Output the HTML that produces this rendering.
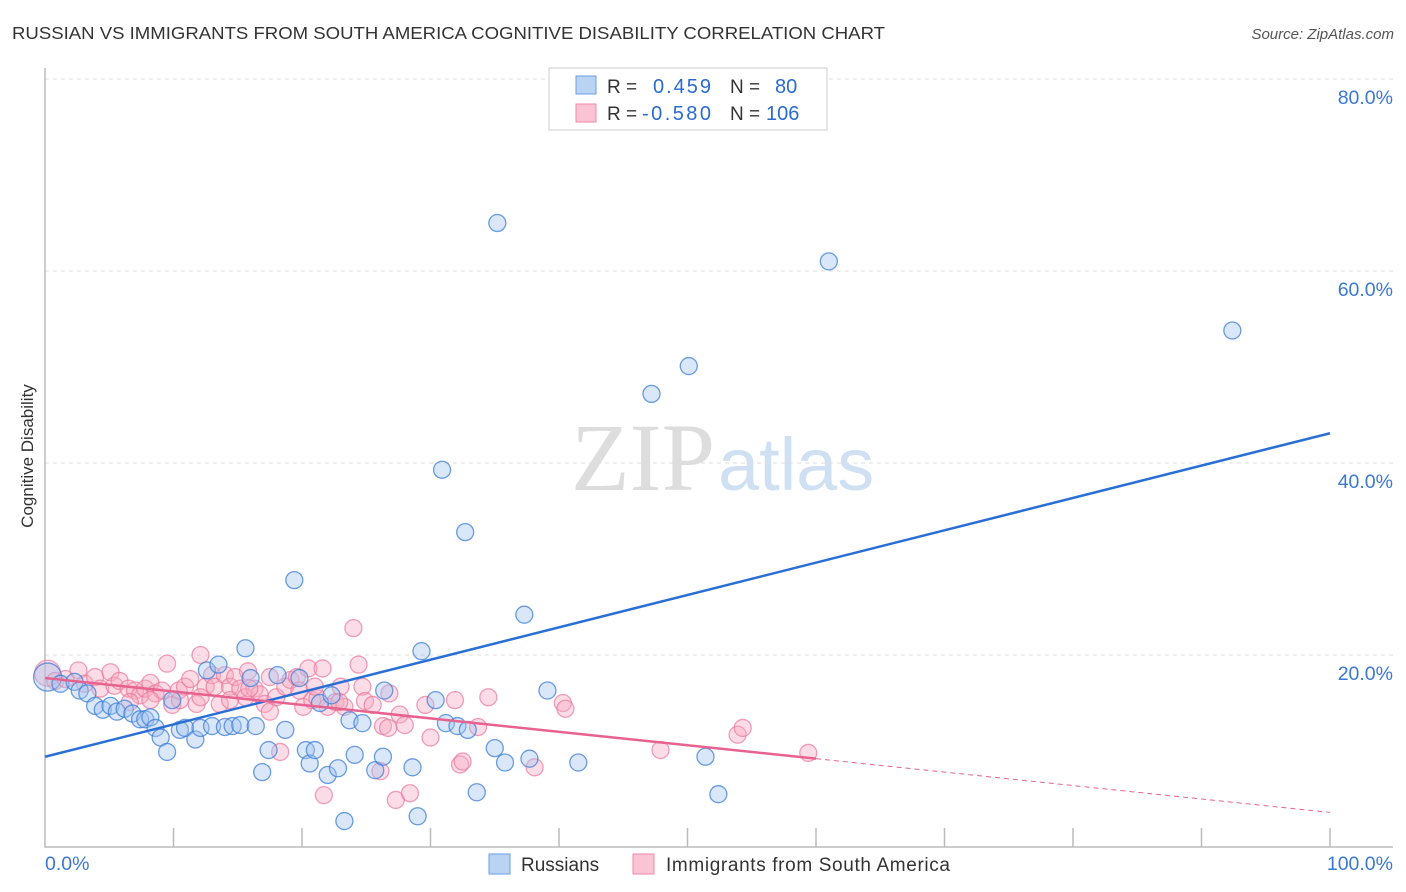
<!DOCTYPE html>
<html><head><meta charset="utf-8"><style>
body{margin:0;background:#fff;font-family:"Liberation Sans",sans-serif}
</style></head><body>
<svg id="c" width="1406" height="892" xmlns="http://www.w3.org/2000/svg" style="display:block">
<text x="12" y="39" font-size="17.5" fill="#333" textLength="873" lengthAdjust="spacingAndGlyphs">RUSSIAN VS IMMIGRANTS FROM SOUTH AMERICA COGNITIVE DISABILITY CORRELATION CHART</text>
<text x="1394" y="39" font-size="15" fill="#555" text-anchor="end" font-style="italic">Source: ZipAtlas.com</text>
<text x="715" y="490" font-size="96" fill="#ddd" text-anchor="end" font-family="Liberation Serif">ZIP</text>
<text x="718" y="490" font-size="74" fill="#cfe0f3">atlas</text>
<text transform="translate(33,456) rotate(-90)" font-size="17" fill="#333" text-anchor="middle">Cognitive Disability</text>
<g id="grid"></g><g id="pts"></g><g id="lines"></g>
<g>
<rect x="549" y="68" width="278" height="62" fill="#fff" stroke="#ccc"/>
<rect x="576" y="76" width="20" height="18" fill="#b9d3f3" stroke="#6a9fe0"/>
<rect x="576" y="104" width="20" height="18" fill="#fac4d4" stroke="#ee8aa8"/>
<text x="607" y="93" font-size="19" fill="#333">R =</text><text x="653" y="93" font-size="20" fill="#2a6bd1" textLength="58">0.459</text>
<text x="730" y="93" font-size="19" fill="#333">N =</text><text x="775" y="93" font-size="20" fill="#2a6bd1">80</text>
<text x="607" y="120" font-size="19" fill="#333">R =</text><text x="642" y="120" font-size="20" fill="#2a6bd1" textLength="69">-0.580</text>
<text x="730" y="120" font-size="19" fill="#333">N =</text><text x="766" y="120" font-size="20" fill="#2a6bd1">106</text>
</g>
<g>
<rect x="489" y="854" width="21" height="20" fill="#b9d3f3" stroke="#6a9fe0"/>
<text x="521" y="871" font-size="19" fill="#333">Russians</text>
<rect x="633" y="854" width="21" height="20" fill="#fac4d4" stroke="#ee8aa8"/>
<text x="666" y="871" font-size="19" fill="#333" textLength="284">Immigrants from South America</text>
</g>
</svg>
<script>
const yTicks=[20,40,60,80];
const xTickLabels=["0.0%","100.0%"];
const blueX=[0.2,1.2,2.3,2.7,3.3,3.9,4.5,5.1,5.6,6.2,6.8,7.4,7.8,8.2,8.6,9.0,9.5,9.9,10.5,10.9,11.7,12.1,12.6,13.0,13.5,14.0,14.6,15.2,15.6,16.0,16.4,16.9,17.4,18.1,18.7,19.4,19.8,20.3,20.6,21.0,21.4,22.0,22.3,22.8,23.3,23.7,24.1,24.7,25.7,26.3,26.4,28.6,29.0,29.3,30.4,30.9,31.2,32.1,32.7,32.9,33.6,35.0,35.8,37.3,37.7,39.1,41.5,47.2,50.1,51.4,52.4,61.0,92.4,35.2];
const blueY=[17.7,17.0,17.2,16.3,16.0,14.7,14.3,14.7,14.1,14.4,13.9,13.3,13.3,13.5,12.4,11.4,9.9,15.3,12.2,12.4,11.2,12.4,18.4,12.6,19.0,12.5,12.6,12.7,20.7,17.6,12.6,7.8,10.1,17.9,12.2,27.8,17.6,10.1,8.7,10.1,15.0,7.5,15.8,8.2,2.7,13.2,9.6,12.9,8.0,9.4,16.3,8.3,3.2,20.4,15.3,39.3,12.9,12.6,32.8,12.2,5.7,10.3,8.8,24.2,9.2,16.3,8.8,47.2,50.1,9.4,5.5,61.0,53.8,65.0];
const pinkX=[0.2,0.8,1.6,2.6,3.1,3.9,4.3,5.1,5.4,5.8,6.5,7.0,7.4,7.8,8.2,8.6,9.1,9.5,9.9,10.4,10.9,11.3,11.8,12.1,12.5,13.0,13.2,13.6,14.0,14.4,14.8,15.2,15.6,15.8,16.3,16.7,17.1,17.5,18.0,18.3,18.7,19.1,19.6,20.1,20.5,20.8,21.2,21.6,22.0,22.6,23.0,23.3,24.0,24.4,24.7,24.9,25.5,26.1,26.3,26.7,26.8,27.3,27.6,28.0,28.4,29.6,30.0,31.9,32.3,32.5,33.7,34.5,38.1,40.3,40.5,47.9,53.9,54.3,59.4,21.7,17.5,10.5,14.4,8.2,22.9,15.9,19.8,21.0,12.1,6.6];
const pinkY=[18.1,17.3,17.5,18.4,17.0,17.7,16.5,18.2,16.8,17.3,16.5,16.3,15.8,16.5,17.1,16.0,16.3,19.1,14.8,16.3,16.7,17.5,14.9,20.0,16.7,17.9,16.7,14.9,17.9,16.7,17.7,16.5,15.6,18.3,16.5,15.9,14.9,14.1,15.6,9.9,16.7,17.4,17.7,14.6,18.6,15.3,15.5,18.6,14.6,15.1,16.7,14.6,22.8,19.0,16.7,15.2,14.8,7.9,12.6,12.4,16.0,4.9,13.8,12.7,5.6,14.8,11.4,15.3,8.6,8.9,12.5,15.6,8.3,15.0,14.4,10.1,11.7,12.4,9.8,5.4,17.7,15.3,15.3,15.3,15.1,16.5,16.3,16.7,15.6,15.1];
const blueFit=[9.4,43.1];      // y at x=0, x=100
const pinkFit=[17.6,3.6];      // y at x=0, x=100
const pinkSolidEnd=60;
const X=v=>45+v*12.85, Y=v=>847-v*9.6;
const ns="http://www.w3.org/2000/svg";
function mk(t,a,p){const e=document.createElementNS(ns,t);for(const k in a)e.setAttribute(k,a[k]);p.appendChild(e);return e;}
const g=document.getElementById('grid');
yTicks.forEach(t=>{
 const l=mk('line',{x1:45,x2:1393,y1:Y(t),y2:Y(t),stroke:'#ddd','stroke-dasharray':'4,4'},g);
 
 
 const tx=mk('text',{x:1393,y:Y(t)+25,'font-size':19.5,fill:'#3b78d0','text-anchor':'end'},g);
 tx.textContent=t.toFixed(1)+'%';
 
 
});
const ax=mk('path',{d:`M45,68V847H1393`,stroke:'#bbb',fill:'none','stroke-width':1.5},g);


for(let i=1;i<=10;i++){const t=mk('line',{x1:X(i*10),x2:X(i*10),y1:828,y2:847,stroke:'#bbb','stroke-width':1.5},g);
 
 }
xTickLabels.forEach((s,i)=>{const t=mk('text',{x:i?1393:45,y:870,'font-size':19.5,fill:'#3b78d0','text-anchor':i?'end':'start'},g);t.textContent=s;
 
 });
const p=document.getElementById('pts');
pinkX.forEach((x,i)=>{const c=mk('circle',{cx:X(x),cy:Y(pinkY[i]),r:i==0?13:8.5,fill:'rgba(248,170,195,0.4)',stroke:'rgba(235,120,155,0.7)','stroke-width':1.3},p);
 
 });
blueX.forEach((x,i)=>{const c=mk('circle',{cx:X(x),cy:Y(blueY[i]),r:i==0?14:8.5,fill:'rgba(160,195,240,0.4)',stroke:'rgba(60,125,215,0.75)','stroke-width':1.3},p);
 
 });
const L=document.getElementById('lines');
const b=mk('line',{x1:X(0),y1:Y(blueFit[0]),x2:X(100),y2:Y(blueFit[1]),stroke:'#2a6fd6','stroke-width':2.5},L);


const pm=v=>pinkFit[0]+(pinkFit[1]-pinkFit[0])*v/100;
const pk=mk('line',{x1:X(0),y1:Y(pm(0)),x2:X(pinkSolidEnd),y2:Y(pm(pinkSolidEnd)),stroke:'#e8628f','stroke-width':2.5},L);


const pd=mk('line',{x1:X(pinkSolidEnd),y1:Y(pm(pinkSolidEnd)),x2:X(100),y2:Y(pm(100)),stroke:'#e8628f','stroke-width':1,'stroke-dasharray':'5,4'},L);


</script>
</body></html>
